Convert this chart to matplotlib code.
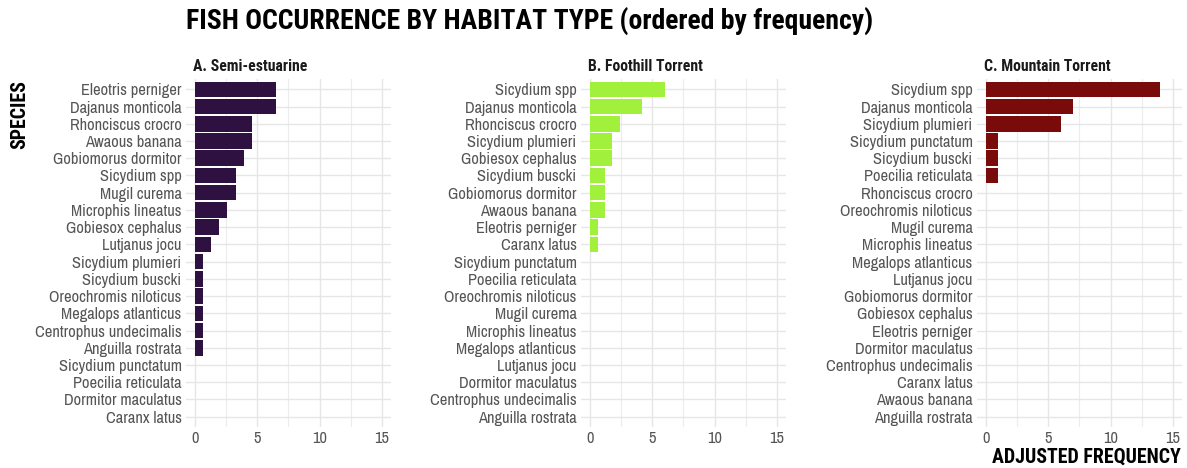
import matplotlib
matplotlib.use("Agg")
import matplotlib.pyplot as plt
from matplotlib.ticker import MultipleLocator

FONT = "Roboto Condensed"
LABEL_FONT = "Archivo Narrow"

# Panel A - Semi-estuarine
species_a = ["Eleotris perniger", "Dajanus monticola", "Rhonciscus crocro", "Awaous banana",
             "Gobiomorus dormitor", "Sicydium spp", "Mugil curema", "Microphis lineatus",
             "Gobiesox cephalus", "Lutjanus jocu", "Sicydium plumieri", "Sicydium buscki",
             "Oreochromis niloticus", "Megalops atlanticus", "Centrophus undecimalis",
             "Anguilla rostrata", "Sicydium punctatum", "Poecilia reticulata",
             "Dormitor maculatus", "Caranx latus"]
freq_a = [6.5, 6.5, 4.55, 4.55, 3.9, 3.25, 3.25, 2.6, 1.95, 1.3,
          0.65, 0.65, 0.65, 0.65, 0.65, 0.65, 0, 0, 0, 0]

# Panel B - Foothill Torrent
species_b = ["Sicydium spp", "Dajanus monticola", "Rhonciscus crocro", "Sicydium plumieri",
             "Gobiesox cephalus", "Sicydium buscki", "Gobiomorus dormitor", "Awaous banana",
             "Eleotris perniger", "Caranx latus", "Sicydium punctatum", "Poecilia reticulata",
             "Oreochromis niloticus", "Mugil curema", "Microphis lineatus",
             "Megalops atlanticus", "Lutjanus jocu", "Dormitor maculatus",
             "Centrophus undecimalis", "Anguilla rostrata"]
freq_b = [6.0, 4.2, 2.4, 1.8, 1.8, 1.2, 1.2, 1.2, 0.6, 0.6,
          0, 0, 0, 0, 0, 0, 0, 0, 0, 0]

# Panel C - Mountain Torrent
species_c = ["Sicydium spp", "Dajanus monticola", "Sicydium plumieri", "Sicydium punctatum",
             "Sicydium buscki", "Poecilia reticulata", "Rhonciscus crocro",
             "Oreochromis niloticus", "Mugil curema", "Microphis lineatus",
             "Megalops atlanticus", "Lutjanus jocu", "Gobiomorus dormitor",
             "Gobiesox cephalus", "Eleotris perniger", "Dormitor maculatus",
             "Centrophus undecimalis", "Caranx latus", "Awaous banana", "Anguilla rostrata"]
freq_c = [14, 7, 6, 1, 1, 1, 0, 0, 0, 0, 0, 0, 0, 0, 0, 0, 0, 0, 0, 0]

panels = [("A. Semi-estuarine", species_a, freq_a, "#2e1141"),
          ("B. Foothill Torrent", species_b, freq_b, "#a0f03c"),
          ("C. Mountain Torrent", species_c, freq_c, "#7a0b0b")]

W, H = 1187, 468
fig = plt.figure(figsize=(W / 100, H / 100), dpi=100)
renderer = fig.canvas.get_renderer()


def fit_size(text, target_px, family=FONT, bold=False):
    # font size (pt) that makes the text about target_px wide
    t = fig.text(0, 0, text, fontsize=10, family=family, fontweight="bold" if bold else "normal")
    w = t.get_window_extent(renderer).width
    t.remove()
    return 10 * target_px / w


label_size = fit_size("Centrophus undecimalis", 147, family=LABEL_FONT)
strip_size = fit_size("A. Semi-estuarine", 114.6, bold=True)
title_size = fit_size("FISH OCCURRENCE BY HABITAT TYPE (ordered by frequency)", 687, bold=True)
axis_size = fit_size("ADJUSTED FREQUENCY", 188, bold=True)

lefts = [185.7, 580.7, 976.7]
for left, (title, sp, fr, col) in zip(lefts, panels):
    ax = fig.add_axes([left / W, 1 - 427 / H, 205.5 / W, 348 / H])
    pos = list(range(len(sp)))
    ax.barh(pos, fr, height=0.9, color=col, zorder=3)
    ax.set_ylim(len(sp) - 0.4, -0.6)
    ax.set_xlim(-0.75, 15.75)
    ax.set_yticks(pos, labels=sp)
    ax.set_xticks([0, 5, 10, 15])
    ax.xaxis.set_minor_locator(MultipleLocator(2.5))
    ax.grid(True, which="major", color="#e6e6e6", linewidth=1.0, zorder=0)
    ax.grid(True, which="minor", axis="x", color="#ececec", linewidth=0.8, zorder=0)
    ax.tick_params(which="both", length=0, labelsize=label_size, labelcolor="#555555", pad=3)
    for lab in ax.get_yticklabels() + ax.get_xticklabels():
        lab.set_fontfamily(LABEL_FONT)
    for s in ax.spines.values():
        s.set_visible(False)
    ax.text(0.034, 1.037, title, transform=ax.transAxes, ha="left", va="center",
            fontsize=strip_size, fontweight="bold", family=FONT, color="#1a1a1a")

fig.text(529.5 / W, 1 - 21 / H, "FISH OCCURRENCE BY HABITAT TYPE (ordered by frequency)",
         ha="center", va="center", fontsize=title_size, fontweight="bold", family=FONT, color="black")
fig.text(20 / W, 1 - 80 / H, "SPECIES", rotation=90, ha="center", va="top",
         fontsize=axis_size, fontweight="bold", family=FONT, color="black")
fig.text(1181 / W, 1 - 457 / H, "ADJUSTED FREQUENCY", ha="right", va="center",
         fontsize=axis_size, fontweight="bold", family=FONT, color="black")

fig.savefig("out.png", dpi=100)
